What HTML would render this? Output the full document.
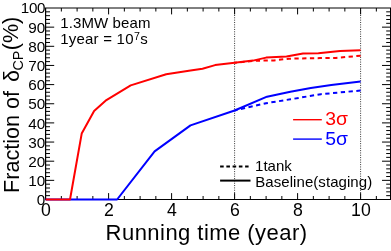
<!DOCTYPE html>
<html><head><meta charset="utf-8"><title>plot</title>
<style>
html,body{margin:0;padding:0;background:#fff;}
body{width:391px;height:251px;overflow:hidden;}
svg{display:block;will-change:transform;}
.t{font-family:"Liberation Sans",sans-serif;}
text{fill:#000;}
</style></head><body>
<svg width="391" height="251" viewBox="0 0 391 251">
<rect width="391" height="251" fill="#fff"/>
<path d="M45.60 180.35 h8.6 M390.60 180.35 h-8.6 M45.60 161.20 h8.6 M390.60 161.20 h-8.6 M45.60 142.05 h8.6 M390.60 142.05 h-8.6 M45.60 122.90 h8.6 M390.60 122.90 h-8.6 M45.60 103.75 h8.6 M390.60 103.75 h-8.6 M45.60 84.60 h8.6 M390.60 84.60 h-8.6 M45.60 65.45 h8.6 M390.60 65.45 h-8.6 M45.60 46.30 h8.6 M390.60 46.30 h-8.6 M45.60 27.15 h8.6 M390.60 27.15 h-8.6" stroke="#000" stroke-width="1" fill="none"/>
<path d="M45.60 195.67 h4.4 M390.60 195.67 h-4.4 M45.60 191.84 h4.4 M390.60 191.84 h-4.4 M45.60 188.01 h4.4 M390.60 188.01 h-4.4 M45.60 184.18 h4.4 M390.60 184.18 h-4.4 M45.60 176.52 h4.4 M390.60 176.52 h-4.4 M45.60 172.69 h4.4 M390.60 172.69 h-4.4 M45.60 168.86 h4.4 M390.60 168.86 h-4.4 M45.60 165.03 h4.4 M390.60 165.03 h-4.4 M45.60 157.37 h4.4 M390.60 157.37 h-4.4 M45.60 153.54 h4.4 M390.60 153.54 h-4.4 M45.60 149.71 h4.4 M390.60 149.71 h-4.4 M45.60 145.88 h4.4 M390.60 145.88 h-4.4 M45.60 138.22 h4.4 M390.60 138.22 h-4.4 M45.60 134.39 h4.4 M390.60 134.39 h-4.4 M45.60 130.56 h4.4 M390.60 130.56 h-4.4 M45.60 126.73 h4.4 M390.60 126.73 h-4.4 M45.60 119.07 h4.4 M390.60 119.07 h-4.4 M45.60 115.24 h4.4 M390.60 115.24 h-4.4 M45.60 111.41 h4.4 M390.60 111.41 h-4.4 M45.60 107.58 h4.4 M390.60 107.58 h-4.4 M45.60 99.92 h4.4 M390.60 99.92 h-4.4 M45.60 96.09 h4.4 M390.60 96.09 h-4.4 M45.60 92.26 h4.4 M390.60 92.26 h-4.4 M45.60 88.43 h4.4 M390.60 88.43 h-4.4 M45.60 80.77 h4.4 M390.60 80.77 h-4.4 M45.60 76.94 h4.4 M390.60 76.94 h-4.4 M45.60 73.11 h4.4 M390.60 73.11 h-4.4 M45.60 69.28 h4.4 M390.60 69.28 h-4.4 M45.60 61.62 h4.4 M390.60 61.62 h-4.4 M45.60 57.79 h4.4 M390.60 57.79 h-4.4 M45.60 53.96 h4.4 M390.60 53.96 h-4.4 M45.60 50.13 h4.4 M390.60 50.13 h-4.4 M45.60 42.47 h4.4 M390.60 42.47 h-4.4 M45.60 38.64 h4.4 M390.60 38.64 h-4.4 M45.60 34.81 h4.4 M390.60 34.81 h-4.4 M45.60 30.98 h4.4 M390.60 30.98 h-4.4 M45.60 23.32 h4.4 M390.60 23.32 h-4.4 M45.60 19.49 h4.4 M390.60 19.49 h-4.4 M45.60 15.66 h4.4 M390.60 15.66 h-4.4 M45.60 11.83 h4.4 M390.60 11.83 h-4.4" stroke="#000" stroke-width="1" fill="none"/>
<path d="M61.35 199.50 v-3.5 M61.35 8.00 v3.5 M77.10 199.50 v-3.5 M77.10 8.00 v3.5 M92.85 199.50 v-3.5 M92.85 8.00 v3.5 M108.60 199.50 v-6.4 M108.60 8.00 v6.4 M124.35 199.50 v-3.5 M124.35 8.00 v3.5 M140.10 199.50 v-3.5 M140.10 8.00 v3.5 M155.85 199.50 v-3.5 M155.85 8.00 v3.5 M171.60 199.50 v-6.4 M171.60 8.00 v6.4 M187.35 199.50 v-3.5 M187.35 8.00 v3.5 M203.10 199.50 v-3.5 M203.10 8.00 v3.5 M218.85 199.50 v-3.5 M218.85 8.00 v3.5 M234.60 199.50 v-6.4 M234.60 8.00 v6.4 M250.35 199.50 v-3.5 M250.35 8.00 v3.5 M266.10 199.50 v-3.5 M266.10 8.00 v3.5 M281.85 199.50 v-3.5 M281.85 8.00 v3.5 M297.60 199.50 v-6.4 M297.60 8.00 v6.4 M313.35 199.50 v-3.5 M313.35 8.00 v3.5 M329.10 199.50 v-3.5 M329.10 8.00 v3.5 M344.85 199.50 v-3.5 M344.85 8.00 v3.5 M360.60 199.50 v-6.4 M360.60 8.00 v6.4 M376.35 199.50 v-3.5 M376.35 8.00 v3.5" stroke="#000" stroke-width="1" fill="none"/>
<path d="M45.00 8.00 H391.20" stroke="#000" stroke-width="1" fill="none"/>
<path d="M45.00 199.50 H391.20" stroke="#000" stroke-width="1.1" fill="none"/>
<path d="M45.60 8.00 V199.50 M390.60 8.00 V199.50" stroke="#000" stroke-width="1.2" fill="none"/>
<path d="M234.60 8.00 V199.50" stroke="#000" stroke-width="1" stroke-dasharray="1 1.33" fill="none" opacity="0.8"/>
<path d="M360.60 8.00 V199.50" stroke="#000" stroke-width="1" stroke-dasharray="1 1.33" fill="none" opacity="0.8"/>
<path d="M360.6 90.5 L320.9 94.2 L290.4 99.3 L266.1 103.2 L234.6 110.5" stroke="#0000ff" stroke-width="2" fill="none" stroke-dasharray="4.3 3.5" stroke-linejoin="round"/>
<path d="M45.6 199.5 L117.1 199.5 L154.6 151.4 L190.5 125.4 L234.6 110.5 L267.0 96.7 L290.4 91.7 L310.8 87.9 L331.3 85.0 L360.6 81.5" stroke="#0000ff" stroke-width="2" fill="none" stroke-linejoin="round"/>
<path d="M360.6 55.7 L336.0 57.9 L320.0 58.1 L289.0 58.7 L281.0 59.6 L274.0 60.4 L258.0 60.7 L250.0 61.2 L234.6 62.7" stroke="#ff0000" stroke-width="2" fill="none" stroke-dasharray="4.3 3.45" stroke-linejoin="round"/>
<path d="M45.6 199.5 L70.0 199.5 L81.7 133.6 L94.1 111.0 L106.4 100.1 L130.7 85.4 L166.2 74.3 L190.5 70.4 L202.5 68.7 L215.1 65.1 L234.6 62.8 L253.0 60.6 L266.1 57.6 L286.5 56.4 L303.0 53.5 L318.4 53.3 L340.0 51.1 L360.6 50.3" stroke="#ff0000" stroke-width="2" fill="none" stroke-linejoin="round"/>
<text x="45.3" y="205.10" text-anchor="end" font-size="15.3" class="t">0</text>
<text x="45.3" y="185.95" text-anchor="end" font-size="15.3" class="t">10</text>
<text x="45.3" y="166.80" text-anchor="end" font-size="15.3" class="t">20</text>
<text x="45.3" y="147.65" text-anchor="end" font-size="15.3" class="t">30</text>
<text x="45.3" y="128.50" text-anchor="end" font-size="15.3" class="t">40</text>
<text x="45.3" y="109.35" text-anchor="end" font-size="15.3" class="t">50</text>
<text x="45.3" y="90.20" text-anchor="end" font-size="15.3" class="t">60</text>
<text x="45.3" y="71.05" text-anchor="end" font-size="15.3" class="t">70</text>
<text x="45.3" y="51.90" text-anchor="end" font-size="15.3" class="t">80</text>
<text x="45.3" y="32.75" text-anchor="end" font-size="15.3" class="t">90</text>
<text x="45.0" y="12.60" text-anchor="end" font-size="15.2" letter-spacing="-0.4" class="t">100</text>
<text x="45.95" y="216.4" text-anchor="middle" font-size="17.7" class="t">0</text>
<text x="108.95" y="216.4" text-anchor="middle" font-size="17.7" class="t">2</text>
<text x="171.95" y="216.4" text-anchor="middle" font-size="17.7" class="t">4</text>
<text x="234.95" y="216.4" text-anchor="middle" font-size="17.7" class="t">6</text>
<text x="297.95" y="216.4" text-anchor="middle" font-size="17.7" class="t">8</text>
<text x="360.95" y="216.4" text-anchor="middle" font-size="17.7" class="t">10</text>
<text x="105.6" y="239.6" font-size="22" letter-spacing="0.46" class="t" id="xt">Running time (year)</text>
<text transform="translate(18.7 192.9) rotate(-90)" font-size="21.6" class="t" id="yt">Fraction of <tspan dx="2.8">δ</tspan><tspan font-size="14.3" dy="4" dx="-0.5">CP</tspan><tspan dy="-4.4" dx="0.4">(%)</tspan></text>
<text x="60.2" y="27.5" font-size="15" letter-spacing="0.12" class="t" id="a1">1.3MW beam</text>
<text x="60.2" y="44.4" font-size="15" letter-spacing="0.22" class="t" id="a2">1year = 10<tspan font-size="10.6" dy="-4.6" dx="0.2">7</tspan><tspan dy="4.6" dx="0.1">s</tspan></text>
<path d="M293.1 119.7 H321.8" stroke="#ff0000" stroke-width="1.4"/>
<path d="M293.1 139.1 H321.8" stroke="#0000ff" stroke-width="1.4"/>
<text transform="translate(325.3 125.2) scale(1.09 1)" font-size="17.8" class="t" style="fill:#ff0000" id="l3">3σ</text>
<text transform="translate(325.3 144.9) scale(1.09 1)" font-size="17.8" class="t" style="fill:#0000ff" id="l5">5σ</text>
<path d="M220.1 166.5 H248.6" stroke="#000" stroke-width="1.8" stroke-dasharray="3.6 2.65"/>
<path d="M220.1 180.6 H250.5" stroke="#000" stroke-width="2"/>
<text x="255.1" y="170.8" font-size="15" class="t" id="lt">1tank</text>
<text x="255.3" y="186.5" font-size="15" letter-spacing="0.06" class="t" id="lb">Baseline(staging)</text>
</svg>
</body></html>
